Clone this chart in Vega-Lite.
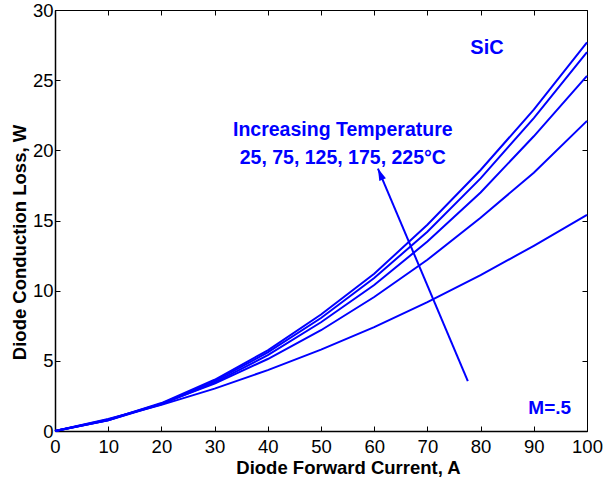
{
  "$schema": "https://vega.github.io/schema/vega-lite/v6.json",
  "autosize": {"type": "none"},
  "padding": {"left": 55, "top": 10, "right": 20, "bottom": 49},
  "width": 532,
  "height": 421,
  "background": "white",
  "config": {
    "view": {"stroke": "black", "strokeWidth": 1},
    "font": "Liberation Sans",
    "axis": {
      "grid": false,
      "domainColor": "black",
      "domainWidth": 1.5,
      "tickColor": "black",
      "tickSize": -5,
      "tickWidth": 1,
      "labelColor": "black",
      "labelFont": "Liberation Sans",
      "labelFontSize": 18.5,
      "titleFont": "Liberation Sans",
      "titleFontSize": 18.5,
      "titleFontWeight": "bold",
      "titleColor": "black"
    }
  },
  "datasets": {
    "curves": [
      {"I": 0, "T": 25, "P": 0}, {"I": 10, "T": 25, "P": 0.86}, {"I": 20, "T": 25, "P": 1.86}, {"I": 30, "T": 25, "P": 3.02}, {"I": 40, "T": 25, "P": 4.34}, {"I": 50, "T": 25, "P": 5.8}, {"I": 60, "T": 25, "P": 7.4}, {"I": 70, "T": 25, "P": 9.18}, {"I": 80, "T": 25, "P": 11.1}, {"I": 90, "T": 25, "P": 13.2}, {"I": 100, "T": 25, "P": 15.4},
      {"I": 0, "T": 75, "P": 0}, {"I": 10, "T": 75, "P": 0.82}, {"I": 20, "T": 75, "P": 1.95}, {"I": 30, "T": 75, "P": 3.38}, {"I": 40, "T": 75, "P": 5.13}, {"I": 50, "T": 75, "P": 7.18}, {"I": 60, "T": 75, "P": 9.55}, {"I": 70, "T": 75, "P": 12.2}, {"I": 80, "T": 75, "P": 15.2}, {"I": 90, "T": 75, "P": 18.4}, {"I": 100, "T": 75, "P": 22.1},
      {"I": 0, "T": 125, "P": 0}, {"I": 10, "T": 125, "P": 0.76}, {"I": 20, "T": 125, "P": 1.9}, {"I": 30, "T": 125, "P": 3.45}, {"I": 40, "T": 125, "P": 5.4}, {"I": 50, "T": 125, "P": 7.75}, {"I": 60, "T": 125, "P": 10.4}, {"I": 70, "T": 125, "P": 13.5}, {"I": 80, "T": 125, "P": 17.0}, {"I": 90, "T": 125, "P": 21.0}, {"I": 100, "T": 125, "P": 25.3},
      {"I": 0, "T": 175, "P": 0}, {"I": 10, "T": 175, "P": 0.77}, {"I": 20, "T": 175, "P": 1.95}, {"I": 30, "T": 175, "P": 3.55}, {"I": 40, "T": 175, "P": 5.6}, {"I": 50, "T": 175, "P": 8.05}, {"I": 60, "T": 175, "P": 10.9}, {"I": 70, "T": 175, "P": 14.2}, {"I": 80, "T": 175, "P": 18.0}, {"I": 90, "T": 175, "P": 22.3}, {"I": 100, "T": 175, "P": 27.0},
      {"I": 0, "T": 225, "P": 0}, {"I": 10, "T": 225, "P": 0.78}, {"I": 20, "T": 225, "P": 1.99}, {"I": 30, "T": 225, "P": 3.65}, {"I": 40, "T": 225, "P": 5.75}, {"I": 50, "T": 225, "P": 8.3}, {"I": 60, "T": 225, "P": 11.2}, {"I": 70, "T": 225, "P": 14.7}, {"I": 80, "T": 225, "P": 18.6}, {"I": 90, "T": 225, "P": 22.9}, {"I": 100, "T": 225, "P": 27.7}
    ],
    "arrow": [{"x": 77.6, "y": 3.56, "x2": 60.7, "y2": 18.7}],
    "labels": [
      {"x": 81.2, "y": 27.3, "text": "SiC", "size": "big"},
      {"x": 54.1, "y": 21.45, "text": "Increasing Temperature", "size": "mid"},
      {"x": 54.1, "y": 19.46, "text": "25, 75, 125, 175, 225°C", "size": "mid"},
      {"x": 93.0, "y": 1.64, "text": "M=.5", "size": "normal"}
    ]
  },
  "layer": [
    {
      "data": {"name": "curves"},
      "mark": {"type": "line", "color": "#0000FF", "strokeWidth": 2},
      "encoding": {
        "x": {"field": "I", "type": "quantitative", "scale": {"domain": [0, 100], "nice": false},
              "axis": {"orient": "bottom", "title": "Diode Forward Current, A", "values": [0,10,20,30,40,50,60,70,80,90,100], "labelPadding": 11, "titlePadding": 3, "titleX": 293, "labelFlush": false}},
        "y": {"field": "P", "type": "quantitative", "scale": {"domain": [0, 30], "nice": false},
              "axis": {"orient": "left", "title": "Diode Conduction Loss, W", "values": [0,5,10,15,20,25,30], "labelPadding": 7, "titlePadding": 3, "titleY": 232, "labelFlush": false}},
        "detail": {"field": "T", "type": "nominal"}
      }
    },
    {
      "data": {"name": "arrow"},
      "mark": {"type": "rule", "color": "#0000FF", "strokeWidth": 2},
      "encoding": {
        "x": {"field": "x", "type": "quantitative", "axis": {"orient": "top", "labels": false, "title": null, "domain": false, "values": [0,10,20,30,40,50,60,70,80,90,100]}},
        "y": {"field": "y", "type": "quantitative", "axis": {"orient": "right", "labels": false, "title": null, "domain": false, "values": [0,5,10,15,20,25,30]}},
        "x2": {"field": "x2"},
        "y2": {"field": "y2"}
      }
    },
    {
      "data": {"name": "arrow"},
      "mark": {"type": "point", "shape": "M0,0 L-0.6,2 L0.6,2 Z", "filled": true, "color": "#0000FF", "opacity": 1, "size": 144, "angle": 337},
      "encoding": {
        "x": {"field": "x2", "type": "quantitative", "axis": null},
        "y": {"field": "y2", "type": "quantitative", "axis": null}
      }
    },
    {
      "data": {"name": "labels"},
      "mark": {"type": "text", "color": "#0000FF", "fontWeight": "bold", "font": "Liberation Sans", "align": "center", "baseline": "middle"},
      "encoding": {
        "x": {"field": "x", "type": "quantitative", "axis": null},
        "y": {"field": "y", "type": "quantitative", "axis": null},
        "text": {"field": "text", "type": "nominal"},
        "size": {"field": "size", "type": "nominal", "scale": {"domain": ["big", "mid", "normal"], "range": [20, 19, 18]}, "legend": null}
      }
    }
  ],
  "resolve": {"axis": {"x": "independent", "y": "independent"}}
}
